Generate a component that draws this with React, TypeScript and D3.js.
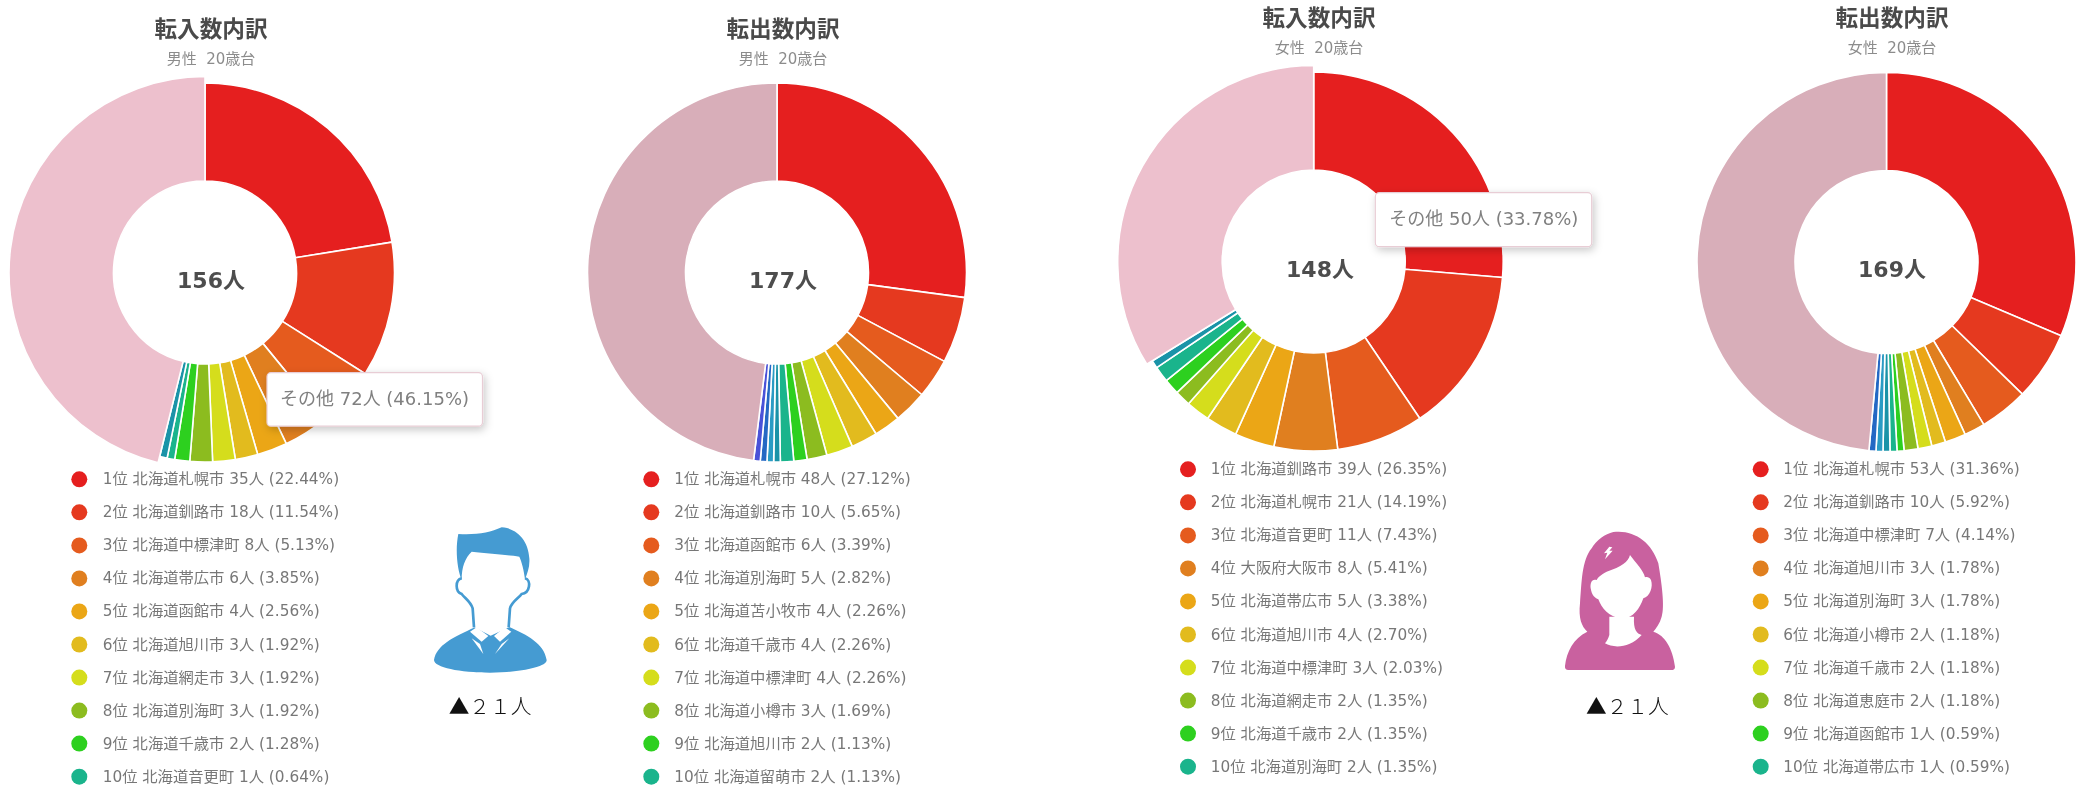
import React from "react";
import * as d3 from "d3";

// ---- data ----
const maleInNames = ["北海道札幌市", "北海道釧路市", "北海道中標津町", "北海道帯広市", "北海道函館市", "北海道旭川市", "北海道網走市", "北海道別海町", "北海道千歳市", "北海道音更町"];
const maleInCounts = [35, 18, 8, 6, 4, 3, 3, 3, 2, 1];
const maleInRest = [1];
const maleInOther = 72;

const maleOutNames = ["北海道札幌市", "北海道釧路市", "北海道函館市", "北海道別海町", "北海道苫小牧市", "北海道千歳市", "北海道中標津町", "北海道小樽市", "北海道旭川市", "北海道留萌市"];
const maleOutCounts = [48, 10, 6, 5, 4, 4, 4, 3, 2, 2];
const maleOutRest = [1, 1, 1, 1];
const maleOutOther = 85;

const femaleInNames = ["北海道釧路市", "北海道札幌市", "北海道音更町", "大阪府大阪市", "北海道帯広市", "北海道旭川市", "北海道中標津町", "北海道網走市", "北海道千歳市", "北海道別海町"];
const femaleInCounts = [39, 21, 11, 8, 5, 4, 3, 2, 2, 2];
const femaleInRest = [1];
const femaleInOther = 50;

const femaleOutNames = ["北海道札幌市", "北海道釧路市", "北海道中標津町", "北海道旭川市", "北海道別海町", "北海道小樽市", "北海道千歳市", "北海道恵庭市", "北海道函館市", "北海道帯広市"];
const femaleOutCounts = [53, 10, 7, 3, 3, 2, 2, 2, 1, 1];
const femaleOutRest = [1, 1, 1];
const femaleOutOther = 82;

const rainbow = ["#e51f1f", "#e5391f", "#e55b1e", "#e07f1f", "#eba616", "#e2bb1e", "#d5dd1c", "#8cbc1f", "#2dd01f", "#1ab48c", "#1a93a8", "#2a9bc4", "#2468c4", "#4a52d8"];
const font = '"DejaVu Sans","Noto Sans CJK JP",sans-serif';
const cjk = '"Noto Sans CJK JP",sans-serif';

type Panel = {
  title: string; sub: string; names: string[]; counts: number[]; rest: number[]; other: number; otherColor: string;
  cx: number; cy: number; titleX: number; titleY: number; subY: number; labelX: number; labelY: number;
  dotX: number; textX: number; legendY: number; hoverOther: boolean;
  tip?: { x: number; y: number; w: number; h: number; tx: number };
};

const panels: Panel[] = [
  { title: "転入数内訳", sub: "男性  20歳台", names: maleInNames, counts: maleInCounts, rest: maleInRest, other: maleInOther, otherColor: "#edc0cd",
    cx: 205, cy: 272.5, titleX: 211, titleY: 27, subY: 59, labelX: 211, labelY: 280, dotX: 79.3, textX: 102.7, legendY: 479.3, hoverOther: true,
    tip: { x: 267, y: 372.7, w: 215.5, h: 53.5, tx: 280 } },
  { title: "転出数内訳", sub: "男性  20歳台", names: maleOutNames, counts: maleOutCounts, rest: maleOutRest, other: maleOutOther, otherColor: "#d8aeb9",
    cx: 777, cy: 272.5, titleX: 783, titleY: 27, subY: 59, labelX: 783, labelY: 280, dotX: 651.3, textX: 674.3, legendY: 479.3, hoverOther: false },
  { title: "転入数内訳", sub: "女性  20歳台", names: femaleInNames, counts: femaleInCounts, rest: femaleInRest, other: femaleInOther, otherColor: "#edc0cd",
    cx: 1313.7, cy: 261.5, titleX: 1319, titleY: 16.5, subY: 48, labelX: 1320, labelY: 269, dotX: 1188, textX: 1210.7, legendY: 469.3, hoverOther: true,
    tip: { x: 1375.3, y: 192.7, w: 216.4, h: 54, tx: 1389.3 } },
  { title: "転出数内訳", sub: "女性  20歳台", names: femaleOutNames, counts: femaleOutCounts, rest: femaleOutRest, other: femaleOutOther, otherColor: "#d8aeb9",
    cx: 1886.5, cy: 262, titleX: 1892, titleY: 16.5, subY: 48, labelX: 1892, labelY: 269, dotX: 1760.7, textX: 1783.3, legendY: 469.3, hoverOther: false },
];

const INNER = 91.5;
const OUTER = 189.5;
const OUTER_HOVER = 196;
const LEGEND_STEP = 33.04;

function Donut({ p }: { p: Panel }) {
  const values = [...p.counts, ...p.rest, p.other];
  const total = d3.sum(values);
  const arcs = d3.pie<number>().sort(null).startAngle(0).endAngle(2 * Math.PI).value((d) => d)(values);
  const pct = (v: number) => ((v / total) * 100).toFixed(2);
  const arcGen = d3.arc<d3.PieArcDatum<number>>().innerRadius(INNER);
  return (
    <g>
      <text x={p.titleX} y={p.titleY} textAnchor="middle" dominantBaseline="central" fontFamily={cjk} fontWeight={700} fontSize={22.6} fill="#4a4a4a">{p.title}</text>
      <text x={p.titleX} y={p.subY} textAnchor="middle" dominantBaseline="central" fontFamily={font} fontSize={15} fill="#8c8c8c" xmlSpace="preserve">{p.sub}</text>
      <g transform={`translate(${p.cx},${p.cy})`}>
        {arcs.map((a, i) => {
          const isOther = i === arcs.length - 1;
          const r = isOther && p.hoverOther ? OUTER_HOVER : OUTER;
          return (
            <path key={i} d={arcGen.outerRadius(r)(a) as string} fill={isOther ? p.otherColor : rainbow[i]} stroke="#fff" strokeWidth={1.6} strokeLinejoin="round" />
          );
        })}
      </g>
      <text x={p.labelX} y={p.labelY} textAnchor="middle" dominantBaseline="central" fontFamily={font} fontWeight={700} fontSize={22} fill="#4d4d4d">{total}人</text>
      {p.names.map((n, i) => {
        const y = p.legendY + i * LEGEND_STEP;
        return (
          <g key={n}>
            <circle cx={p.dotX} cy={y} r={8} fill={rainbow[i]} />
            <text x={p.textX} y={y} dominantBaseline="central" fontFamily={font} fontSize={15.3} fill="#777">
              {`${i + 1}位 ${n} ${p.counts[i]}人 (${pct(p.counts[i])}%)`}
            </text>
          </g>
        );
      })}
    </g>
  );
}

function Tip({ p }: { p: Panel }) {
  if (!p.tip) return null;
  const t = p.tip;
  return (
    <g>
      <rect x={t.x} y={t.y} width={t.w} height={t.h} rx={4} fill="#fff" stroke="#e8cdd5" strokeWidth={1.2} filter="url(#tipShadow)" />
      <text x={t.tx} y={t.y + t.h / 2 - 1} dominantBaseline="central" fontFamily={font} fontSize={18} fill="#808080">
        {`その他 ${p.other}人 (${((p.other / d3.sum([...p.counts, ...p.rest, p.other])) * 100).toFixed(2)}%)`}
      </text>
    </g>
  );
}

function ManIcon() {
  const blue = "#459bd2";
  return (
    <g transform="translate(420,520) scale(0.3333)">
      <path fill={blue} d="M42,420 C50,375 100,352 165,322 L270,322 C320,345 372,370 380,420 C382,440 300,458 210,458 C120,458 42,442 42,420 Z" />
      <path fill="#fff" d="M163,296 L267,296 L267,322 L212,347 L163,322 Z" />
      <path fill="#fff" d="M150,335 L170,322 L205,348 L185,365 Z" />
      <path fill="#fff" d="M155,355 L180,372 L190,402 Z" />
      <path fill="#fff" d="M274,335 L254,322 L222,348 L240,365 Z" />
      <path fill="#fff" d="M268,355 L245,372 L225,402 Z" />
      <path fill="none" stroke={blue} strokeWidth={8} d="M125,175 C105,180 105,215 125,222 C135,235 152,245 158,265 L162,322" />
      <path fill="none" stroke={blue} strokeWidth={8} d="M315,175 C335,180 330,220 305,222 C295,235 275,245 270,265 L266,322" />
      <path fill={blue} d="M115,42 C170,45 210,38 245,22 C290,25 325,60 328,115 C330,140 322,160 315,178 C312,150 305,125 298,110 C270,105 200,100 155,95 C135,115 125,140 125,180 C112,150 105,90 115,42 Z" />
      <text x={210} y={555} dominantBaseline="central" textAnchor="middle" fontFamily={cjk} fontWeight={300} fontSize={62} fill="#111">▲２１人</text>
    </g>
  );
}

function WomanIcon() {
  const pink = "#c9619f";
  return (
    <g transform="translate(1550,520) scale(0.3333)">
      <path fill={pink} d="M190,36 C250,28 305,65 325,130 C335,190 345,260 335,290 C330,310 318,325 310,335 C345,345 368,385 375,440 C376,447 370,450 365,450 L55,450 C48,450 44,446 45,438 C50,395 70,355 112,335 C95,320 85,295 90,250 C95,190 95,120 125,85 C140,60 165,42 190,36 Z" />
      <path fill="#fff" d="M240,105 C235,125 215,140 170,155 C150,165 142,175 140,180 C125,175 120,190 122,205 C125,225 135,235 145,238 C155,265 175,290 215,297 C250,295 270,265 280,235 C300,230 310,200 303,180 C298,170 290,170 285,172 C280,150 258,130 240,105 Z" />
      <path fill="#fff" d="M178,290 L178,345 C175,355 170,365 165,370 C190,385 240,385 275,345 C260,340 250,330 252,290 Z" />
      <path fill="#fff" d="M178,80 L162,100 L172,98 L165,118 L188,92 L178,92 L187,82 Z" />
      <text x={232} y={555} dominantBaseline="central" textAnchor="middle" fontFamily={cjk} fontWeight={300} fontSize={62} fill="#111">▲２１人</text>
    </g>
  );
}

export default function App() {
  return (
    <svg width={2078} height={787} viewBox="0 0 2078 787" style={{ position: "absolute", left: 0, top: 0, display: "block", background: "#fff", filter: "blur(0.45px)" }}>
      <defs>
        <filter id="tipShadow" x="-10%" y="-30%" width="120%" height="170%">
          <feDropShadow dx={2} dy={3} stdDeviation={4} floodColor="#000" floodOpacity={0.22} />
        </filter>
      </defs>
      {panels.map((p, i) => <Donut key={i} p={p} />)}
      {panels.map((p, i) => <Tip key={i} p={p} />)}
      <ManIcon />
      <WomanIcon />
    </svg>
  );
}
